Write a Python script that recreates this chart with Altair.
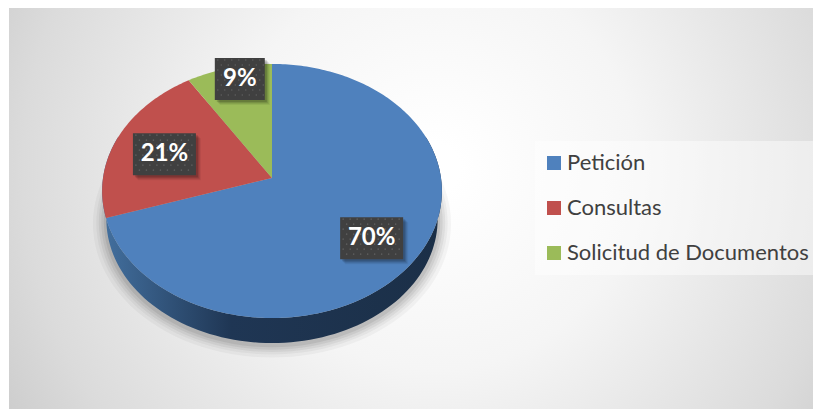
import math
import altair as alt
import pandas as pd

categories = ["Petición", "Consultas", "Solicitud de Documentos"]
shares = [70, 21, 9]
colors = ["#4f81bd", "#c0504d", "#9bbb59"]
labels = ["70%", "21%", "9%"]

W, H = 805, 401
CX, CY = 264, 170
RX, RY, K = 169, 125.7, 0.1023


def pt(deg, scale=1.0, dy=0.0):
    t = math.radians(deg)
    d = 1 + K * math.cos(t)
    return [CX + scale * RX * math.sin(t) / d, CY + dy - scale * RY * math.cos(t) / d]


def poly(points):
    return {"type": "Feature", "geometry": {"type": "Polygon", "coordinates": [points + [points[0]]]}}


# slices
features, mids, start = [], [], 0.0
for name, s in zip(categories, shares):
    a0, a1 = start, start + s * 3.6
    n = max(int(a1 - a0), 2)
    pts = [[CX, CY]] + [pt(a0 + (a1 - a0) * i / n) for i in range(n + 1)]
    f = poly(pts)
    f["properties"] = {"name": name}
    features.append(f)
    mids.append((a0 + a1) / 2)
    start = a1

# pie rim
rim = poly([pt(a) for a in range(70, 291, 2)] + [pt(a, 0.975, 28.5) for a in range(290, 69, -2)])

projection = dict(type="identity", scale=1, translate=[0, 0])

background = alt.Chart(pd.DataFrame({"a": [0]})).mark_rect(
    fill={
        "gradient": "radial",
        "x1": 0.53, "y1": 0.45, "r1": 0.03,
        "x2": 0.53, "y2": 0.45, "r2": 0.72,
        "stops": [
            {"offset": 0, "color": "#ffffff"},
            {"offset": 0.32, "color": "#f5f5f5"},
            {"offset": 0.7, "color": "#dbdbdb"},
            {"offset": 1, "color": "#bebebe"},
        ],
    }
).encode(x=alt.value(1), x2=alt.value(W), y=alt.value(0), y2=alt.value(H))

legend_box = alt.Chart(pd.DataFrame({"a": [0]})).mark_rect(color="#ffffff", opacity=0.45).encode(
    x=alt.value(527), x2=alt.value(W), y=alt.value(133), y2=alt.value(267)
)

# soft shadow under the pie, stacked faint rings
shadow_layers = []
for grow, op in [(1.07, 0.035), (1.05, 0.04), (1.035, 0.05), (1.02, 0.06), (1.005, 0.07)]:
    sh = poly([pt(a, grow * 0.985, 32 - (1.07 - grow) * 20) for a in range(0, 360, 3)])
    shadow_layers.append(
        alt.Chart(alt.Data(values=[sh])).mark_geoshape(fill="#000000", opacity=op, stroke=None).project(**projection)
    )

rim_layer = alt.Chart(alt.Data(values=[rim])).mark_geoshape(
    fill={
        "gradient": "linear", "x1": 0, "y1": 0, "x2": 1, "y2": 0,
        "stops": [
            {"offset": 0, "color": "#43709f"},
            {"offset": 0.38, "color": "#1f3654"},
            {"offset": 1, "color": "#1b2f47"},
        ],
    },
    stroke=None,
).project(**projection)

pie = alt.Chart(alt.Data(values=features)).mark_geoshape(stroke=None).encode(
    color=alt.Color(
        "properties.name:N",
        scale=alt.Scale(domain=categories, range=colors),
        legend=alt.Legend(
            title=None, orient="none", legendX=527, legendY=136,
            symbolType="square", symbolSize=196, symbolStrokeWidth=0,
            labelFont="Lato", labelFontSize=22, labelColor="#404040", labelLimit=300,
            labelOffset=2, rowPadding=23, padding=8,
        ),
    )
).project(**projection)

# label placement: fractions of the slice's mid-edge point
label_fx = [0.685, 0.70, 0.75]
label_fy = [0.765, 0.58, 0.90]
box_half = [31.5, 31.5, 25]
rows, dots = [], []
for lab, m, fx, fy, hw in zip(labels, mids, label_fx, label_fy, box_half):
    ex, ey = pt(m)
    x = CX + (ex - CX) * fx
    y = CY + (ey - CY) * fy
    rows.append({"label": lab, "x": x, "y": y, "x0": x - hw, "x1": x + hw, "y0": y - 21, "y1": y + 21})
    row = 0
    yy = y - 19
    while yy < y + 20:
        xx = x - hw + (3 if row % 2 == 0 else 6.5)
        while xx < x + hw - 1:
            dots.append({"x": xx, "y": yy})
            xx += 7
        yy += 5
        row += 1
df = pd.DataFrame(rows)
dots_df = pd.DataFrame(dots)

xs = alt.Scale(domain=[0, W], range=[0, W])
ys = alt.Scale(domain=[0, H], range=[0, H])


def box(dx, color, op):
    d = df.assign(x0=df.x0 + dx, x1=df.x1 + dx, y0=df.y0 + dx, y1=df.y1 + dx)
    return alt.Chart(d).mark_rect(color=color, opacity=op).encode(
        x=alt.X("x0:Q", scale=xs, axis=None), x2="x1:Q",
        y=alt.Y("y0:Q", scale=ys, axis=None), y2="y1:Q",
    )


box_shadows = [box(d, "#000000", o) for d, o in [(5, 0.06), (4, 0.08), (3, 0.1), (2, 0.14)]]
boxes = box(0, "#404040", 1)
dot_layer = alt.Chart(dots_df).mark_circle(size=2.5, color="#5e5e5e", opacity=1).encode(
    x=alt.X("x:Q", scale=xs, axis=None), y=alt.Y("y:Q", scale=ys, axis=None)
)
text = alt.Chart(df).mark_text(
    font="Lato", fontWeight="bold", fontSize=24, color="#ffffff", baseline="middle", align="center"
).encode(
    x=alt.X("x:Q", scale=xs, axis=None), y=alt.Y("y:Q", scale=ys, axis=None), text="label:N"
)

chart = alt.layer(
    background, legend_box, *shadow_layers, rim_layer, pie, *box_shadows, boxes, dot_layer, text
).properties(
    width=W, height=H, padding=0, background="#ffffff",
    autosize=alt.AutoSizeParams(type="none"),
).configure_view(stroke=None).resolve_scale(color="independent")

chart.save("out.html", embed_options={"renderer": "svg", "actions": False})
